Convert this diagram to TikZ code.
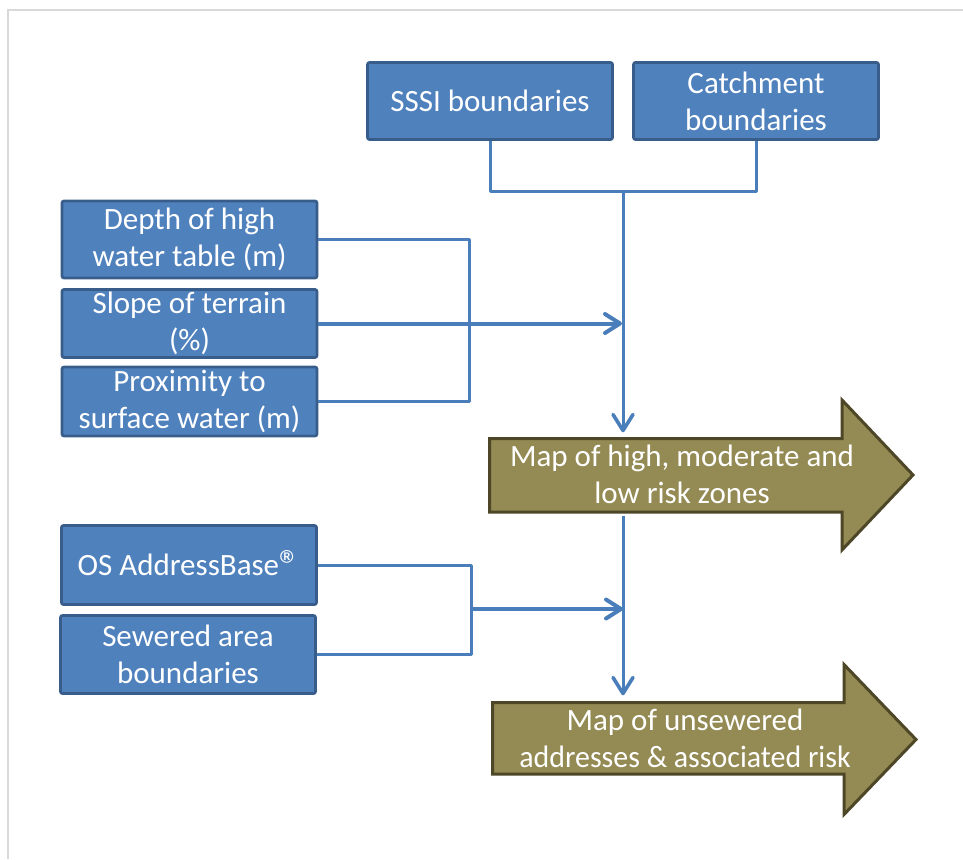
\documentclass[tikz,border=0pt]{standalone}
\usepackage{fontspec}
\setmainfont{Carlito}
\usetikzlibrary{arrows.meta}
\definecolor{boxfill}{HTML}{4F81BD}
\definecolor{boxborder}{HTML}{385D8A}
\definecolor{linec}{HTML}{4A7EBB}
\definecolor{olivefill}{HTML}{948A54}
\definecolor{oliveborder}{HTML}{4D4728}
\definecolor{framec}{HTML}{D9D9D9}
\tikzset{
  inbox/.style={draw=boxborder, fill=boxfill, line width=2.7pt, rounded corners=2pt,
    text=white, align=center, inner sep=0pt,
    font=\fontsize{31}{37}\selectfont},
  conn/.style={draw=linec, line width=3pt, line join=round},
  flowarrow/.style={draw=linec, line width=4pt, line join=round,
    -{Straight Barb[length=15pt,width=19pt,round]}},
  downarrow/.style={draw=linec, line width=3pt, line join=round,
    -{Straight Barb[length=16pt,width=20pt,round,line width=3.6pt]}},
  olivearrow/.style={draw=oliveborder, fill=olivefill, line width=3pt},
  olivetext/.style={text=white, align=center, inner sep=0pt,
    font=\fontsize{31}{37}\selectfont},
  bodyanchor/.style={inner sep=0pt, draw=none}
}
\begin{document}
\begin{tikzpicture}[x=1pt,y=-1pt]
\useasboundingbox (0,0) rectangle (963,859);
% frame
\draw[framec, line width=2pt] (963,10) -- (7.5,10) -- (7.5,859);

% top boxes
\node[inbox, minimum width=245pt, minimum height=77pt] (sssi) at (490,101) {SSSI boundaries};
\node[inbox, minimum width=245pt, minimum height=77pt] (catch) at (756,101) {Catchment\\boundaries};

% left boxes
\node[inbox, minimum width=255pt, minimum height=77pt] (depth) at (189.5,239.5) {Depth of high\\water table (m)};
\node[inbox, minimum width=255pt, minimum height=68pt] (slope) at (189.5,323.5) {Slope of terrain\\(\%)};
\node[inbox, minimum width=255pt, minimum height=69pt] (prox) at (189.5,401.5) {Proximity to\\surface water (m)};
\node[inbox, minimum width=255pt, minimum height=79pt] (os) at (189,565) {OS AddressBase\raisebox{-0.12em}{\fontsize{42}{42}\selectfont ®}};
\node[inbox, minimum width=255pt, minimum height=78pt] (sewer) at (188,654.5) {Sewered area\\boundaries};

% olive arrows (shapes)
\draw[olivearrow] (489.5,438.5) -- (842,438.5) -- (842,400) -- (913,475) -- (842,550) -- (842,512) -- (489.5,512) -- cycle;
\node[bodyanchor, minimum width=352pt, minimum height=73.5pt] (map1) at (665.75,475.25) {};
\node[olivetext] (map1t) at (682,474) {Map of high, moderate and\\low risk zones};

\draw[olivearrow] (492.5,702.5) -- (844,702.5) -- (844,664.5) -- (916,739.5) -- (844,814.5) -- (844,774) -- (492.5,774) -- cycle;
\node[bodyanchor, minimum width=351.5pt, minimum height=71.5pt] (map2) at (668.25,738.25) {};
\node[olivetext] (map2t) at (685,738) {Map of unsewered\\\scalebox{0.965}[1]{addresses \& associated risk}};

% connectors
\coordinate (j1) at (623,191);
\coordinate (k1) at (469,320);
\coordinate (k2) at (471.5,609);

\draw[conn] (sssi.south) |- (j1) -| (catch.south);
\draw[downarrow, shorten >=6pt] (j1) -- (j1 |- map1.north);

\draw[conn] (depth.east) -| (k1) |- (prox.east);
\draw[flowarrow, shorten >=1pt] (slope.east) -- (slope.east -| j1);

\draw[conn] (os.east) -| (k2) |- (sewer.east);
\draw[flowarrow] (k2) -- (k2 -| j1);

\draw[downarrow, shorten <=4pt, shorten >=7pt] (map1.south -| j1) -- (map2.north -| j1);
\end{tikzpicture}
\end{document}
